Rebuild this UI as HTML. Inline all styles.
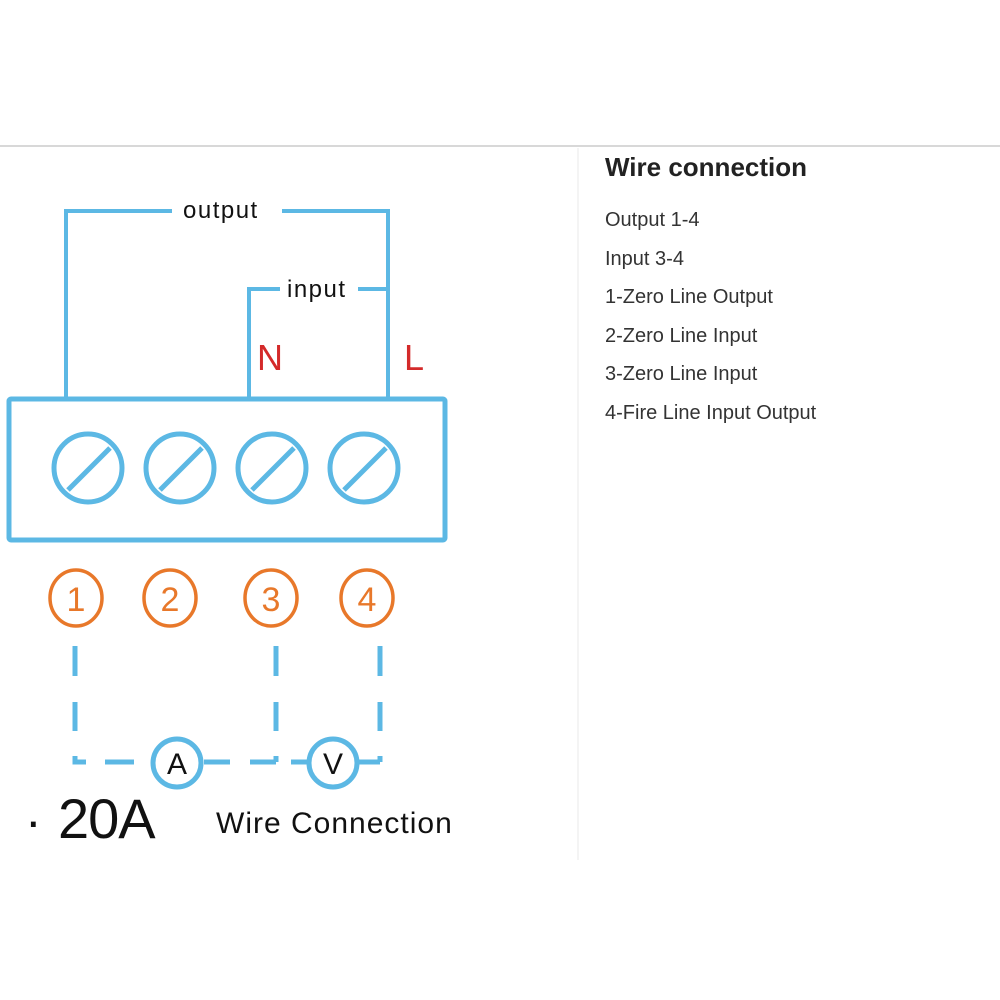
<!DOCTYPE html>
<html><head><meta charset="utf-8"><style>
html,body{margin:0;padding:0;background:#fff;width:1000px;height:1000px;overflow:hidden}
</style></head><body>
<svg width="1000" height="1000" xmlns="http://www.w3.org/2000/svg" style="position:absolute;left:0;top:0">
<line x1="0" y1="146" x2="1000" y2="146" stroke="#d8d8d8" stroke-width="2"/>
<line x1="578" y1="148" x2="578" y2="860" stroke="#f4f4f4" stroke-width="2"/>
<g stroke="#5cb8e4" stroke-width="4" fill="none">
<polyline points="66,398 66,211 172,211"/>
<polyline points="282,211 388,211 388,398"/>
<polyline points="249,398 249,289 280,289"/>
<line x1="358" y1="289" x2="388" y2="289"/>
<rect x="9" y="399" width="436" height="141" stroke-width="5" rx="2"/>
</g>
<g stroke="#5cb8e4" stroke-width="5" fill="none">
<circle cx="88" cy="468" r="34"/><line x1="68" y1="490" x2="110" y2="448"/>
<circle cx="180" cy="468" r="34"/><line x1="160" y1="490" x2="202" y2="448"/>
<circle cx="272" cy="468" r="34"/><line x1="252" y1="490" x2="294" y2="448"/>
<circle cx="364" cy="468" r="34"/><line x1="344" y1="490" x2="386" y2="448"/>
</g>
<g font-family="Liberation Sans, sans-serif" fill="#111">
<text x="183" y="218" font-size="24" letter-spacing="1.5">output</text>
<text x="287" y="297" font-size="24" letter-spacing="1.5">input</text>
</g>
<g font-family="Liberation Sans, sans-serif" fill="#d42a2a" font-size="36">
<text x="257" y="370">N</text>
<text x="404" y="370">L</text>
</g>
<g stroke="#e8782a" stroke-width="3.5" fill="none">
<ellipse cx="76" cy="598" rx="26" ry="28"/>
<ellipse cx="170" cy="598" rx="26" ry="28"/>
<ellipse cx="271" cy="598" rx="26" ry="28"/>
<ellipse cx="367" cy="598" rx="26" ry="28"/>
</g>
<g font-family="Liberation Sans, sans-serif" fill="#e8782a" font-size="34" text-anchor="middle">
<text x="76" y="611">1</text><text x="170" y="611">2</text><text x="271" y="611">3</text><text x="367" y="611">4</text>
</g>
<g stroke="#5cb8e4" stroke-width="5" fill="none">
<line x1="75" y1="646" x2="75" y2="676"/><line x1="75" y1="702" x2="75" y2="731"/>
<polyline points="75,756 75,762 86,762"/>
<line x1="105" y1="762" x2="134" y2="762"/>
<line x1="204" y1="762" x2="230" y2="762"/>
<line x1="250" y1="762" x2="276" y2="762"/>
<line x1="276" y1="646" x2="276" y2="676"/><line x1="276" y1="702" x2="276" y2="731"/>
<line x1="276" y1="756" x2="276" y2="762"/>
<line x1="291" y1="762" x2="310" y2="762"/>
<line x1="359" y1="762" x2="380" y2="762"/>
<line x1="380" y1="646" x2="380" y2="676"/><line x1="380" y1="702" x2="380" y2="731"/>
<line x1="380" y1="756" x2="380" y2="762"/>
<circle cx="177" cy="763" r="24"/>
<circle cx="333" cy="763" r="24"/>
</g>
<g font-family="Liberation Sans, sans-serif" fill="#111" font-size="30" text-anchor="middle">
<text x="177" y="774">A</text><text x="333" y="774">V</text>
</g>
<g font-family="Liberation Sans, sans-serif" fill="#111">
<text x="25" y="838" font-size="50">·</text>
<text x="58" y="838" font-size="56" letter-spacing="-1">20A</text>
<text x="216" y="833" font-size="30" letter-spacing="1">Wire Connection</text>
</g>
<g font-family="Liberation Sans, sans-serif" fill="#222">
<text x="605" y="176" font-size="26" font-weight="bold">Wire connection</text>
<g font-size="20" fill="#333">
<text x="605" y="226">Output 1-4</text>
<text x="605" y="265">Input 3-4</text>
<text x="605" y="303">1-Zero Line Output</text>
<text x="605" y="342">2-Zero Line Input</text>
<text x="605" y="380">3-Zero Line Input</text>
<text x="605" y="419">4-Fire Line Input Output</text>
</g>
</g>
</svg>
</body></html>
